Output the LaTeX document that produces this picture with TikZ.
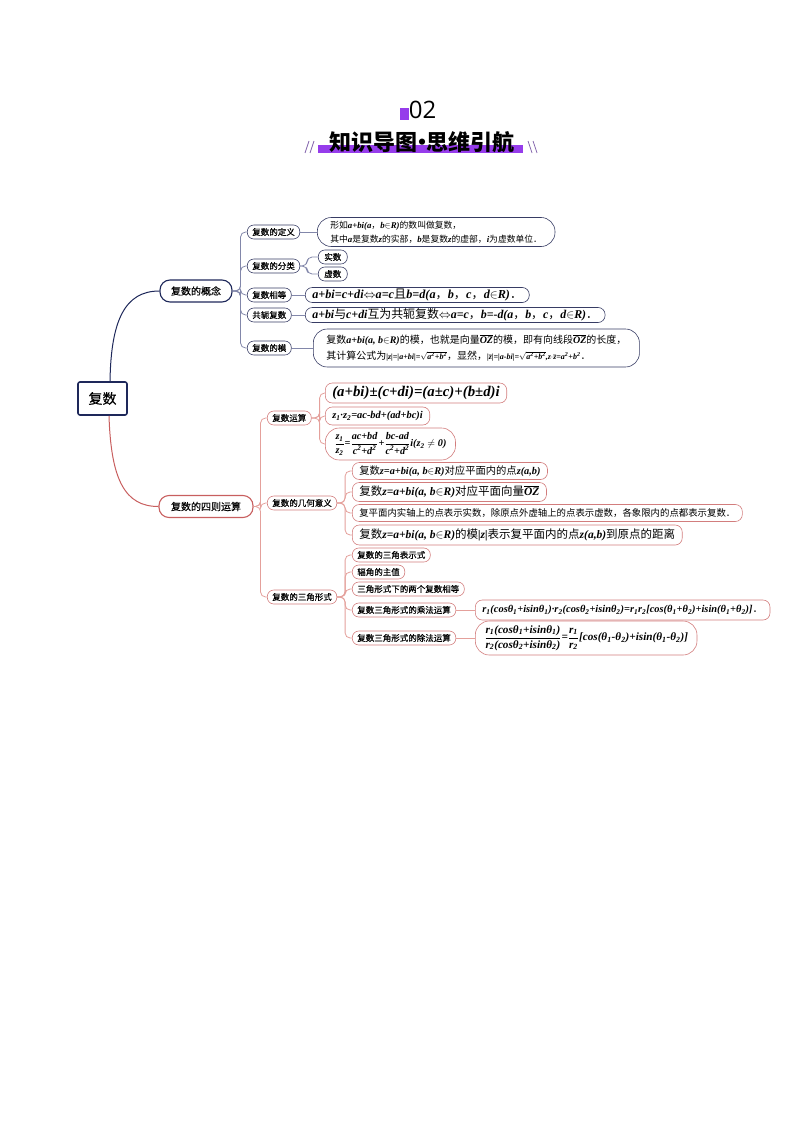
\documentclass[tikz,border=0pt]{standalone}
\usepackage{amsmath, amssymb}
\usepackage[no-math]{fontspec}
\setmainfont{Noto Sans CJK SC}
\newfontfamily\LabelFont{Noto Sans CJK SC}[FakeBold=0.3]
\newfontfamily\FormulaFont{Liberation Serif}
\newfontfamily\DigitFont{Open Sans}
\usepackage{xcolor}
\usepackage{tikz}
\usetikzlibrary{
	calc,
	positioning
}

\definecolor{navy}{RGB}{30,40,90}
\definecolor{navyleaf}{RGB}{55,60,100}
\definecolor{navyline}{RGB}{130,135,170}
\definecolor{rose}{RGB}{200,95,95}
\definecolor{roseleaf}{RGB}{210,125,125}
\definecolor{roseline}{RGB}{228,160,155}
\definecolor{titlepurple}{RGB}{150,60,235}
\definecolor{slashgray}{RGB}{135,105,175}

\newcommand{\fm}[1]{\text{\FormulaFont\bfseries\itshape #1}}
\newcommand{\SetSize}[1]{\fontsize{#1}{#1}\selectfont}

\tikzstyle{rootbox}=[draw=navy, line width=1.6, rounded corners=2, minimum width=49, minimum height=33, font=\LabelFont\SetSize{14}]
\tikzstyle{topic}=[draw, line width=1.1, rounded corners=10, minimum height=22, inner xsep=11, font=\LabelFont\SetSize{10}]
\tikzstyle{subtopic}=[draw, line width=0.6, rounded corners=6.5, minimum height=14, inner xsep=5, inner ysep=0, anchor=west, font=\LabelFont\SetSize{8.5}]
\tikzstyle{leaf}=[draw, line width=0.6, rounded corners=7, anchor=west, align=left, inner xsep=7, inner ysep=0.5]
\tikzstyle{tallleaf}=[leaf, rounded corners=14, inner xsep=13]

\begin{document}
\begin{tikzpicture}
	[x=1pt, y=-1pt]

	\useasboundingbox (0,0) rectangle (794,1123);

	% heading
	\begin{scope}
		\fill[titlepurple] (400,108) rectangle (409,120);
		\node[font=\DigitFont\SetSize{24}, anchor=base] (number) at (422.5,119) {02};

		\fill[titlepurple] (318,145) rectangle (523,153);
		\node[font=\bfseries\SetSize{22}] (title) at (422,142) {知识导图\kern-0.3em•\kern-0.3em思维引航};

		\begin{scope}[slashgray, line width=0.8]
			\draw (305,153) -- (309,141) (310,153) -- (314,141);
			\draw (528,141) -- (532,153) (533,141) -- (537,153);
		\end{scope}
	\end{scope}

	% root
	\node[rootbox] (complex) at (102.5,398.5) {复数};

	% first branch: the concept
	\begin{scope}
		\node[topic, draw=navy, minimum width=72] (concept) at (196,291) {复数的概念};
		\draw[navy, line width=1] ($(complex.north)+(7.5,0)$) .. controls (111,320) and (125,291) .. (concept.west);

		% labels
		\begin{scope}[every node/.append style={draw=navyleaf}]
			\node[subtopic] (def)  at (247,232) {复数的定义};
			\node[subtopic] (cls)  at (247,266) {复数的分类};
			\node[subtopic] (eqv)  at (247,295) {复数相等};
			\node[subtopic] (conj) at (247,315) {共轭复数};
			\node[subtopic] (modu) at (247,348) {复数的模};

			\node[subtopic, minimum width=29, inner xsep=0] (real) at (318,257) {实数};
			\node[subtopic, minimum width=29, inner xsep=0] (imag) at (318,274) {虚数};

			\node[tallleaf, minimum height=29, font=\SetSize{8.8}] (defleaf) at (317,232)
				{形如\fm{a+bi(a}，\fm{b}$\in$\fm{R)}的数叫做复数，\\[4pt]
				 其中\fm{a}是复数\fm{z}的实部，\fm{b}是复数\fm{z}的虚部，\fm{i}为虚数单位．};
			\node[leaf, minimum height=15, font=\SetSize{12.2}] (eqvleaf) at (305,295)
				{\fm{a+bi=c+di}$\Leftrightarrow$\fm{a=c}且\fm{b=d(a}，\fm{b}，\fm{c}，\fm{d}$\in$\fm{R)}．};
			\node[leaf, minimum height=15, font=\SetSize{11.9}] (conjleaf) at (305,315)
				{\fm{a+bi}与\fm{c+di}互为共轭复数$\Leftrightarrow$\fm{a=c}，\fm{b=-d(a}，\fm{b}，\fm{c}，\fm{d}$\in$\fm{R)}．};
			\node[tallleaf, minimum height=38, font=\SetSize{10}] (moduleaf) at (313,348)
				{复数\fm{a+bi(a, b}$\in$\fm{R)}的模，也就是向量$\overline{\fm{OZ}}$的模，即有向线段$\overline{\fm{OZ}}$的长度，\\[5pt]
				 其计算公式为{\SetSize{8}\fm{|z|=|a+bi|=}$\sqrt{\fm{a\textsuperscript{2}+b\textsuperscript{2}}}$}，显然，{\SetSize{8}\fm{|}$\bar{\fm{z}}$\fm{|=|a-bi|=}$\sqrt{\fm{a\textsuperscript{2}+b\textsuperscript{2}}}$\fm{,z}$\cdot$$\bar{\fm{z}}$\fm{=a\textsuperscript{2}+b\textsuperscript{2}}}．};
		\end{scope}

		% connectors
		\begin{scope}[navyline, line width=0.8, rounded corners=5]
			\newcommand{\StubLength}{8}
			\foreach \child in {def, cls, eqv, conj, modu} {
				\draw (concept.east) -- ++(\StubLength,0) |- (\child.west);
			}
			\foreach \child in {real, imag} {
				\draw (cls.east) -- ++(7,0) |- (\child.west);
			}
			\foreach \from/\to in {def/defleaf, eqv/eqvleaf, conj/conjleaf, modu/moduleaf} {
				\draw (\from.east) -- (\to.west);
			}
		\end{scope}
	\end{scope}

	% second branch: the four operations
	\begin{scope}
		\node[topic, draw=rose, minimum width=94] (ops) at (206,506.5) {复数的四则运算};
		\draw[rose, line width=1] ($(complex.south)+(6.5,0)$) .. controls (111,480) and (125,506.5) .. (ops.west);

		\begin{scope}[every node/.append style={draw=roseleaf}]
			% labels
			\node[subtopic] (arith) at (267,418) {复数运算};
			\node[subtopic] (geom)  at (267,503) {复数的几何意义};
			\node[subtopic] (trig)  at (267,597) {复数的三角形式};

			\begin{scope}[every node/.append style={font=\LabelFont\SetSize{8}}]
				\node[subtopic] (trigform) at (352,555) {复数的三角表示式};
				\node[subtopic] (argval)   at (352,572) {辐角的主值};
				\node[subtopic] (trigeq)   at (352,589) {三角形式下的两个复数相等};
				\node[subtopic] (trigmul)  at (352,610) {复数三角形式的乘法运算};
				\node[subtopic] (trigdiv)  at (352,638) {复数三角形式的除法运算};
			\end{scope}

			% arithmetic
			\node[leaf, minimum height=20, font=\SetSize{14.8}] (sum) at (325,393)
				{\fm{(a+bi)±(c+di)=(a±c)+(b±d)i}};
			\node[leaf, minimum height=18, font=\SetSize{10.4}] (prod) at (325,416)
				{\fm{z\textsubscript{1}·z\textsubscript{2}=ac-bd+(ad+bc)i}};
			\node[tallleaf, minimum height=32, inner xsep=9, font=\SetSize{10.2}] (quot) at (325,444)
				{$\dfrac{\fm{z\textsubscript{1}}}{\fm{z\textsubscript{2}}}\fm{=}\dfrac{\fm{ac+bd}}{\fm{c\textsuperscript{2}+d\textsuperscript{2}}}\fm{+}\dfrac{\fm{bc-ad}}{\fm{c\textsuperscript{2}+d\textsuperscript{2}}}\fm{i(z\textsubscript{2}}\neq\fm{0)}$};

			% geometry
			\node[leaf, minimum height=17, font=\SetSize{10.3}] (point) at (352,471)
				{复数\fm{z=a+bi(a, b}$\in$\fm{R)}对应平面内的点\fm{z(a,b)}};
			\node[leaf, minimum height=19, font=\SetSize{11.5}] (vector) at (352,492)
				{复数\fm{z=a+bi(a, b}$\in$\fm{R)}对应平面向量$\overline{\fm{OZ}}$};
			\node[leaf, minimum height=17, font=\SetSize{9.4}] (axes) at (352,513)
				{复平面内实轴上的点表示实数，除原点外虚轴上的点表示虚数，各象限内的点都表示复数．};
			\node[leaf, minimum height=20, font=\SetSize{11.5}] (dist) at (352,535)
				{复数\fm{z=a+bi(a, b}$\in$\fm{R)}的模\fm{|z|}表示复平面内的点\fm{z(a,b)}到原点的距离};

			% trigonometric form
			\node[leaf, minimum height=20, font=\SetSize{10.4}] (mulleaf) at (475,610)
				{\fm{r\textsubscript{1}(cosθ\textsubscript{1}+isinθ\textsubscript{1})·r\textsubscript{2}(cosθ\textsubscript{2}+isinθ\textsubscript{2})=r\textsubscript{1}r\textsubscript{2}[cos(θ\textsubscript{1}+θ\textsubscript{2})+isin(θ\textsubscript{1}+θ\textsubscript{2})]}．};
			\node[tallleaf, minimum height=34, inner xsep=9, font=\SetSize{11.2}] (divleaf) at (475,638)
				{$\dfrac{\fm{r\textsubscript{1}(cosθ\textsubscript{1}+isinθ\textsubscript{1})}}{\fm{r\textsubscript{2}(cosθ\textsubscript{2}+isinθ\textsubscript{2})}}\fm{=}\dfrac{\fm{r\textsubscript{1}}}{\fm{r\textsubscript{2}}}\fm{[cos(θ\textsubscript{1}-θ\textsubscript{2})+isin(θ\textsubscript{1}-θ\textsubscript{2})]}$};
		\end{scope}

		% connectors
		\begin{scope}[roseline, line width=0.8, rounded corners=5]
			\foreach \child in {arith, geom, trig} {
				\draw (ops.east) -- ++(7,0) |- (\child.west);
			}
			\foreach \child in {sum, prod, quot} {
				\draw (arith.east) -- ++(8,0) |- (\child.west);
			}
			\foreach \child in {point, vector, axes, dist} {
				\draw (geom.east) -- ++(8,0) |- (\child.west);
			}
			\foreach \child in {trigform, argval, trigeq, trigmul, trigdiv} {
				\draw (trig.east) -- ++(8,0) |- (\child.west);
			}
			\draw (trigmul.east) -- (mulleaf.west);
			\draw (trigdiv.east) -- (divleaf.west);
		\end{scope}
	\end{scope}

\end{tikzpicture}
\end{document}
